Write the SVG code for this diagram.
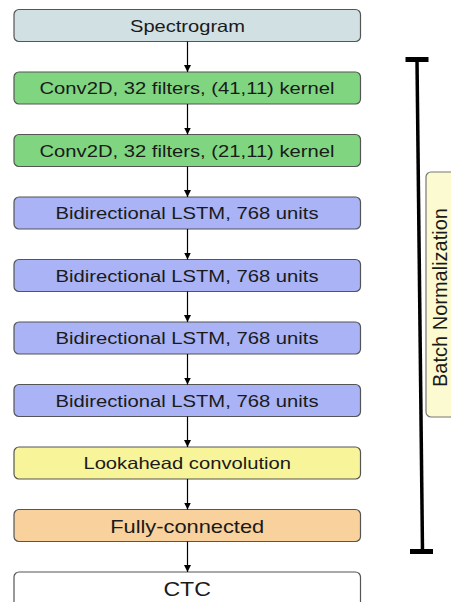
<svg xmlns="http://www.w3.org/2000/svg" width="451" height="602" viewBox="0 0 451 602">
<defs>
<marker id="ah" markerWidth="8" markerHeight="8" refX="7" refY="4" orient="auto" markerUnits="userSpaceOnUse">
<path d="M0,0.5 L7,4 L0,7.5 Z" fill="#000"/>
</marker>
<style>
.box{stroke:#555;stroke-width:1.2}
.t{font-family:"Liberation Sans",Arial,sans-serif;fill:#1a1a1a;text-anchor:middle}
.c{stroke:#000;stroke-width:1.2;fill:none;marker-end:url(#ah)}
</style>
</defs>
<rect width="451" height="602" fill="#fff"/>
<g id="n-spectrogram"><rect class="box" x="14" y="9.5" width="346.5" height="32" rx="5" fill="#d0e0e3"/><text class="t" x="187.5" y="31.5" font-size="16.5" textLength="115" lengthAdjust="spacingAndGlyphs">Spectrogram</text></g>
<g id="n-conv1"><rect class="box" x="14" y="72" width="346.5" height="32" rx="5" fill="#80d680"/><text class="t" x="187" y="94.2" font-size="16.5" textLength="295" lengthAdjust="spacingAndGlyphs">Conv2D, 32 filters, (41,11) kernel</text></g>
<g id="n-conv2"><rect class="box" x="14" y="134.5" width="346.5" height="32" rx="5" fill="#80d680"/><text class="t" x="187" y="156.7" font-size="16.5" textLength="295" lengthAdjust="spacingAndGlyphs">Conv2D, 32 filters, (21,11) kernel</text></g>
<g id="n-lstm1"><rect class="box" x="14" y="197" width="346.5" height="32" rx="5" fill="#a9b3f5"/><text class="t" x="187" y="219.2" font-size="16.5" textLength="263" lengthAdjust="spacingAndGlyphs">Bidirectional LSTM, 768 units</text></g>
<g id="n-lstm2"><rect class="box" x="14" y="259.5" width="346.5" height="32" rx="5" fill="#a9b3f5"/><text class="t" x="187" y="281.7" font-size="16.5" textLength="263" lengthAdjust="spacingAndGlyphs">Bidirectional LSTM, 768 units</text></g>
<g id="n-lstm3"><rect class="box" x="14" y="322" width="346.5" height="32" rx="5" fill="#a9b3f5"/><text class="t" x="187" y="344.2" font-size="16.5" textLength="263" lengthAdjust="spacingAndGlyphs">Bidirectional LSTM, 768 units</text></g>
<g id="n-lstm4"><rect class="box" x="14" y="384.5" width="346.5" height="32" rx="5" fill="#a9b3f5"/><text class="t" x="187" y="406.7" font-size="16.5" textLength="263" lengthAdjust="spacingAndGlyphs">Bidirectional LSTM, 768 units</text></g>
<g id="n-lookahead"><rect class="box" x="14" y="447" width="346.5" height="32" rx="5" fill="#f8f49a"/><text class="t" x="187.2" y="469.2" font-size="16.5" textLength="207.5" lengthAdjust="spacingAndGlyphs">Lookahead convolution</text></g>
<g id="n-fc"><rect class="box" x="14" y="509.5" width="346.5" height="32" rx="5" fill="#f8d19c"/><text class="t" x="187.2" y="533" font-size="18.5" textLength="154" lengthAdjust="spacingAndGlyphs">Fully-connected</text></g>
<g id="n-ctc"><rect class="box" x="14" y="572" width="346.5" height="40" rx="5" fill="#fff"/><text class="t" x="187.2" y="595.5" font-size="20" textLength="47.5" lengthAdjust="spacingAndGlyphs">CTC</text></g>
<g id="n-batchnorm">
<rect x="426" y="172" width="40" height="245" rx="5" fill="#fcfad0" stroke="#777" stroke-width="1.2"/>
<text class="t" transform="translate(447,297.5) rotate(-90)" font-size="19.5" textLength="179" lengthAdjust="spacingAndGlyphs">Batch Normalization</text>
</g>
<g id="bracket" stroke="#000" fill="none">
<line x1="417" y1="60" x2="422.5" y2="551" stroke-width="3.5"/>
<line x1="405.5" y1="59.5" x2="428.5" y2="59.5" stroke-width="5"/>
<line x1="410" y1="551.5" x2="433" y2="551.5" stroke-width="5"/>
</g>
<g id="connectors">
<line class="c" x1="187.5" y1="41.5" x2="187.5" y2="72"/>
<line class="c" x1="187.5" y1="104" x2="187.5" y2="134.5"/>
<line class="c" x1="187.5" y1="166.5" x2="187.5" y2="197"/>
<line class="c" x1="187.5" y1="229" x2="187.5" y2="259.5"/>
<line class="c" x1="187.5" y1="291.5" x2="187.5" y2="322"/>
<line class="c" x1="187.5" y1="354" x2="187.5" y2="384.5"/>
<line class="c" x1="187.5" y1="416.5" x2="187.5" y2="447"/>
<line class="c" x1="187.5" y1="479" x2="187.5" y2="509.5"/>
<line class="c" x1="187.5" y1="541.5" x2="187.5" y2="572"/>
</g>
</svg>
